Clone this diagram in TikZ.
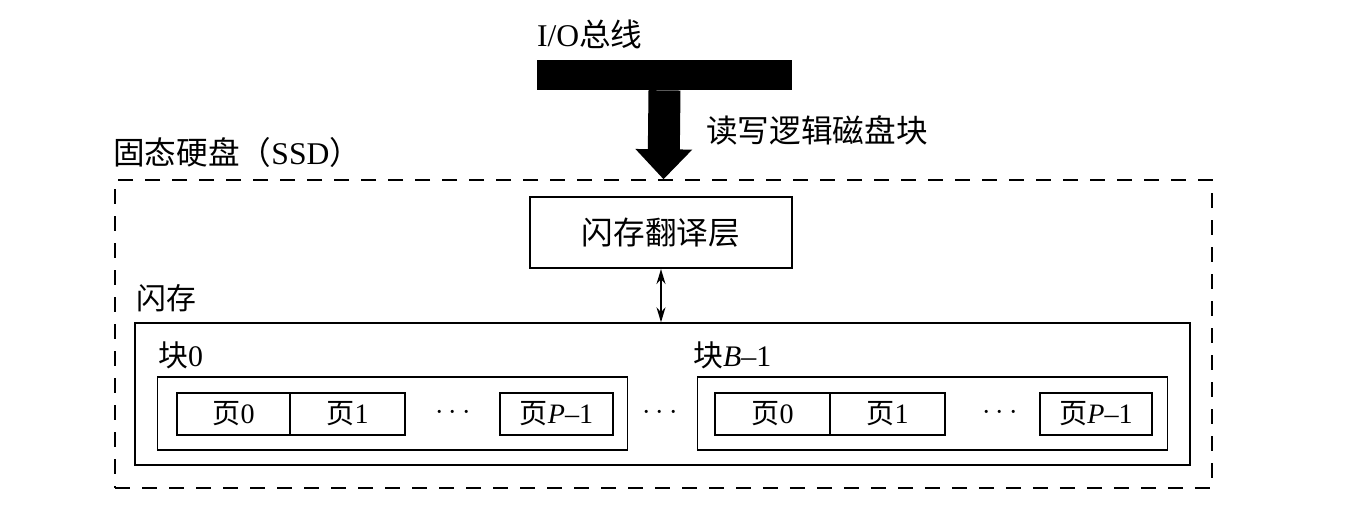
\documentclass[tikz,border=0pt]{standalone}
\usepackage{fontspec}
\setmainfont{Liberation Serif}
\newfontfamily\cjk{Noto Sans CJK SC}
\usetikzlibrary{arrows.meta,positioning}

\begin{document}
\begin{tikzpicture}[
    x=0.02cm, y=-0.02cm,
    big/.style={font=\fontsize{18}{20}\selectfont, inner sep=0pt},
    lbl/.style={font=\fontsize{17}{19}\selectfont, inner sep=0pt, anchor=west},
    pg/.style={draw, line width=0.8pt, outer sep=0pt, minimum height=0.84cm,
               font=\fontsize{16}{18}\selectfont},
    blk/.style={draw, line width=0.8pt, minimum width=9.4cm, minimum height=1.46cm},
    dots/.style={font=\fontsize{18}{20}\selectfont}
]
    \useasboundingbox (0,0) rectangle (1360,516);

    % I/O bus and the wide arrow into the SSD
    \node[fill=black, minimum width=5.1cm, minimum height=0.6cm, inner sep=0pt] (bus) at (664.5,75) {};
    \node[big, anchor=south west] at ([yshift=0.2cm]bus.north west) {I/O{\cjk 总线}};
    \node[draw, dashed, dash pattern=on 0.3cm off 0.24cm, line width=0.85pt,
          minimum width=21.94cm, minimum height=6.16cm] (ssd) at (663.5,334) {};
    \draw[-{Triangle[length=0.6cm,width=1.1cm]}, line width=0.64cm] (bus.south) -- (ssd.north);
    \node[big] (rw) at (817,130) {\cjk 读写逻辑磁盘块};
    \node[big, anchor=west] (ssdlbl) at (113,152) {{\cjk 固态硬盘（}SSD{\cjk ）}};

    % Flash translation layer
    \node[draw, line width=1.2pt, minimum width=5.24cm, minimum height=1.42cm,
          font=\fontsize{18}{20}\selectfont] (ftl) at (661,232.5) {\cjk 闪存翻译层};

    % Flash memory
    \node[lbl] (flashlbl) at (136,298) {\cjk 闪存};
    \node[draw, line width=0.8pt, minimum width=21.1cm, minimum height=2.84cm] (flash) at (662.5,394) {};
    \draw[{Stealth[length=0.3cm,width=0.18cm]}-{Stealth[length=0.3cm,width=0.18cm]}, line width=0.9pt]
        (ftl.south) -- (ftl.south |- flash.north);

    % Block 0
    \node[lbl] at (158,355) {{\cjk 块}0};
    \node[blk] (blk0) at (392.5,413.5) {};
    \node[pg, minimum width=2.26cm] (p00) at (233.5,414) {{\cjk 页}0};
    \node[pg, minimum width=2.3cm, right=0pt of p00] (p01) {{\cjk 页}1};
    \node[dots] at (453,413) {$\cdots$};
    \node[pg, minimum width=2.26cm] (p0P) at (556.5,414) {{\cjk 页}\textit{P}–1};

    \node[dots] at (660,413) {$\cdots$};

    % Block B-1
    \node[lbl] at (693,355) {{\cjk 块}\textit{B}–1};
    \node[blk] (blkB) at (932.5,413.5) {};
    \node[pg, minimum width=2.3cm] (p10) at (772.5,414) {{\cjk 页}0};
    \node[pg, minimum width=2.3cm, right=0pt of p10] (p11) {{\cjk 页}1};
    \node[dots] at (1000,413) {$\cdots$};
    \node[pg, minimum width=2.24cm] (p1P) at (1096,414) {{\cjk 页}\textit{P}–1};
\end{tikzpicture}
\end{document}
